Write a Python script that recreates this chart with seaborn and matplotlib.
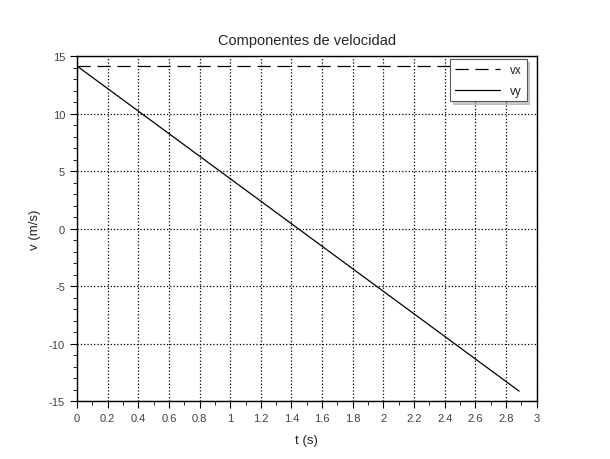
import numpy as np
import pandas as pd
import matplotlib
matplotlib.use("Agg")
import matplotlib.pyplot as plt
from matplotlib.ticker import MultipleLocator, FuncFormatter
import seaborn as sns

# values
t = [0.0, 2.885]
vx = [14.14, 14.14]
vy = [14.14, -14.14]

sns.set_style("ticks")
plt.rcParams['font.family'] = ['Liberation Sans', 'DejaVu Sans']

df = pd.DataFrame({'t': t + t, 'v': vx + vy, 'comp': ['vx'] * 2 + ['vy'] * 2})

fig = plt.figure(figsize=(6.1, 4.6), dpi=100)
ax = fig.add_axes([0.126, 0.126, 0.754, 0.75])

sns.lineplot(data=df, x='t', y='v', hue='comp', style='comp',
             palette={'vx': 'black', 'vy': 'black'},
             dashes={'vx': (10.5, 5.5), 'vy': ''}, linewidth=0.9, ax=ax)

ax.set_xlim(0, 3)
ax.set_ylim(-15, 15)
ax.xaxis.set_major_locator(MultipleLocator(0.2))
ax.xaxis.set_minor_locator(MultipleLocator(0.1))
ax.yaxis.set_major_locator(MultipleLocator(5))
ax.yaxis.set_minor_locator(MultipleLocator(1))
ax.xaxis.set_major_formatter(FuncFormatter(lambda v, p: f'{round(v, 1):g}'))
ax.yaxis.set_major_formatter(FuncFormatter(lambda v, p: f'{round(v):g}'))
ax.grid(True, which='major', color='black', linestyle=':', linewidth=0.9)

for s in ax.spines.values():
    s.set_visible(True)
    s.set_color('black')
    s.set_linewidth(1.0)

ax.tick_params(which='both', direction='out', colors='black', labelcolor='#404040', labelsize=8)
ax.tick_params(which='major', length=5)
ax.tick_params(which='minor', length=3)

ax.set_title('Componentes de velocidad', fontsize=10.5, pad=9)
ax.set_xlabel('t (s)', fontsize=9.5, labelpad=8)
ax.set_ylabel('v (m/s)', fontsize=9.5, labelpad=6)

leg = ax.legend(loc='upper right', bbox_to_anchor=(0.978, 0.991), fontsize=8.5,
                frameon=True, fancybox=False, shadow={'color': '0.6'},
                handlelength=3.8, handletextpad=0.9, labelspacing=0.75,
                borderaxespad=0.0, borderpad=0.4)
leg.get_frame().set_edgecolor('#555555')
leg.get_frame().set_linewidth(0.8)
leg.get_frame().set_alpha(1.0)
for txt in leg.get_texts():
    txt.set_color('#222222')

fig.savefig('out.png', dpi=100)
